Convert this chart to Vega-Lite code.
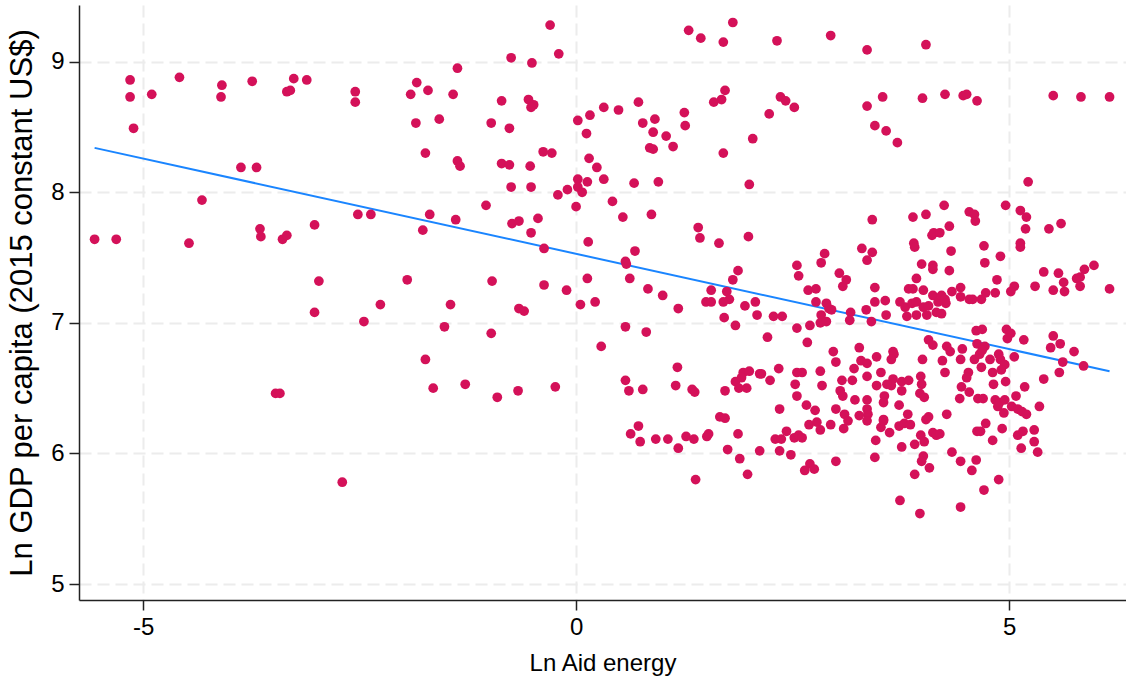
{
"$schema": "https://vega.github.io/schema/vega-lite/v6.json",
"width": 1047, "height": 595,
"autosize": {"type": "none"},
"padding": {"left": 79, "top": 5, "right": 0, "bottom": 79},
"background": "white",
"config": {"view": {"stroke": null}, "font": "Liberation Sans",
 "axis": {"labelFont": "Liberation Sans", "titleFont": "Liberation Sans", "labelFontSize": 24, "titleFontSize": 24, "titleFontWeight": "normal", "labelColor": "black", "titleColor": "black", "domainColor": "#222222", "domainWidth": 1.5, "tickColor": "#222222", "tickWidth": 1.5, "tickSize": 10, "labelPadding": 5, "grid": true, "gridColor": "#ececec", "gridDash": [12, 6], "gridWidth": 2, "labelExpr": "datum.value + ''"}},
"datasets": {
"pts": [
{"x":-5.56,"y":7.64},{"x":-5.31,"y":7.64},{"x":-5.15,"y":8.86},{"x":-5.15,"y":8.73},{"x":-5.11,"y":8.49},{"x":-4.90,"y":8.75},{"x":-4.58,"y":8.88},{"x":-4.47,"y":7.61},{"x":-4.32,"y":7.94},{"x":-4.09,"y":8.82},{"x":-4.10,"y":8.73},{"x":-3.87,"y":8.19},{"x":-3.74,"y":8.85},{"x":-3.69,"y":8.19},{"x":-3.65,"y":7.72},{"x":-3.64,"y":7.66},{"x":-3.47,"y":6.46},{"x":-3.42,"y":6.46},{"x":-3.39,"y":7.64},{"x":-3.34,"y":7.67},{"x":-3.34,"y":8.77},{"x":-3.30,"y":8.78},{"x":-3.26,"y":8.87},{"x":-3.11,"y":8.86},{"x":-3.02,"y":7.75},{"x":-3.02,"y":7.08},{"x":-2.97,"y":7.32},{"x":-2.70,"y":5.78},{"x":-2.55,"y":8.77},{"x":-2.55,"y":8.69},{"x":-2.52,"y":7.83},{"x":-2.45,"y":7.01},{"x":-2.37,"y":7.83},{"x":-2.26,"y":7.14},
{"x":-0.30,"y":9.28},{"x":-0.20,"y":9.06},{"x":-0.75,"y":9.03},{"x":-0.51,"y":8.99},{"x":-1.37,"y":8.95},{"x":-1.84,"y":8.84},{"x":-1.91,"y":8.75},{"x":-1.71,"y":8.78},{"x":-1.42,"y":8.75},{"x":-0.86,"y":8.70},{"x":-0.55,"y":8.71},{"x":-0.49,"y":8.67},{"x":-0.52,"y":8.65},{"x":-1.85,"y":8.53},{"x":-1.58,"y":8.56},{"x":-0.98,"y":8.53},{"x":-0.77,"y":8.49},{"x":0.02,"y":8.55},{"x":0.16,"y":8.59},{"x":0.32,"y":8.65},{"x":0.49,"y":8.63},{"x":0.72,"y":8.69},{"x":0.12,"y":8.45},{"x":0.77,"y":8.53},{"x":0.91,"y":8.56},{"x":0.89,"y":8.46},{"x":1.04,"y":8.43},{"x":1.12,"y":8.35},{"x":0.85,"y":8.34},{"x":0.89,"y":8.33},{"x":1.25,"y":8.61},{"x":1.26,"y":8.51},{"x":1.30,"y":9.24},{"x":1.44,"y":9.18},{"x":1.81,"y":9.30},{"x":1.70,"y":9.15},{"x":1.72,"y":8.78},{"x":1.68,"y":8.71},{"x":1.59,"y":8.69},{"x":2.04,"y":8.41},{"x":1.70,"y":8.30},{"x":2.00,"y":8.06},{"x":-1.74,"y":8.30},{"x":-1.37,"y":8.24},{"x":-1.34,"y":8.20},{"x":-0.86,"y":8.22},{"x":-0.77,"y":8.21},{"x":-0.53,"y":8.20},{"x":-0.38,"y":8.31},{"x":-0.28,"y":8.30},{"x":-0.75,"y":8.04},{"x":-0.52,"y":8.04},{"x":0.15,"y":8.26},{"x":0.24,"y":8.19},{"x":0.32,"y":8.10},{"x":0.13,"y":8.08},{"x":0.02,"y":8.10},{"x":0.02,"y":8.04},{"x":0.07,"y":8.00},{"x":-0.10,"y":8.02},{"x":-0.21,"y":7.98},{"x":0.00,"y":7.89},{"x":0.67,"y":8.07},{"x":0.95,"y":8.08},{"x":0.42,"y":7.93},{"x":0.54,"y":7.81},{"x":0.87,"y":7.83},{"x":-1.04,"y":7.90},{"x":-1.69,"y":7.83},{"x":-1.39,"y":7.79},{"x":-1.77,"y":7.71},{"x":-0.74,"y":7.76},{"x":-0.66,"y":7.78},{"x":-0.44,"y":7.80},{"x":-0.52,"y":7.69},{"x":-0.37,"y":7.57},{"x":0.14,"y":7.62},{"x":0.68,"y":7.55},{"x":0.57,"y":7.47},{"x":0.58,"y":7.45},{"x":1.41,"y":7.73},{"x":1.43,"y":7.65},{"x":1.65,"y":7.61},{"x":1.99,"y":7.66},{"x":1.87,"y":7.40},{"x":1.81,"y":7.33},{"x":1.56,"y":7.25},{"x":1.74,"y":7.24},{"x":1.77,"y":7.18},{"x":1.70,"y":7.16},{"x":1.50,"y":7.16},{"x":1.56,"y":7.16},{"x":1.95,"y":7.13},{"x":2.07,"y":7.16},{"x":1.18,"y":7.11},{"x":1.00,"y":7.21},{"x":0.83,"y":7.26},{"x":0.62,"y":7.34},{"x":0.13,"y":7.34},{"x":0.22,"y":7.16},{"x":0.05,"y":7.14},{"x":-0.11,"y":7.25},{"x":-0.37,"y":7.29},{"x":-0.97,"y":7.32},{"x":-1.95,"y":7.33},{"x":-1.45,"y":7.14},{"x":-0.66,"y":7.11},{"x":-0.60,"y":7.09},
{"x":2.32,"y":9.16},{"x":2.94,"y":9.20},{"x":3.36,"y":9.09},{"x":4.04,"y":9.13},{"x":2.36,"y":8.73},{"x":2.42,"y":8.70},{"x":2.52,"y":8.65},{"x":2.23,"y":8.60},{"x":3.36,"y":8.66},{"x":3.54,"y":8.73},{"x":3.45,"y":8.51},{"x":3.58,"y":8.47},{"x":3.71,"y":8.38},{"x":4.00,"y":8.72},{"x":4.26,"y":8.75},{"x":4.47,"y":8.74},{"x":4.51,"y":8.75},{"x":4.63,"y":8.70},{"x":5.51,"y":8.74},{"x":5.83,"y":8.73},{"x":6.16,"y":8.73},{"x":5.22,"y":8.08},{"x":3.42,"y":7.79},{"x":3.89,"y":7.81},{"x":4.04,"y":7.83},{"x":4.25,"y":7.90},{"x":4.54,"y":7.85},{"x":4.60,"y":7.83},{"x":4.96,"y":7.90},{"x":5.13,"y":7.86},{"x":5.20,"y":7.81},
{"x":2.09,"y":7.06},{"x":1.71,"y":7.04},
{"x":0.57,"y":6.97},{"x":0.81,"y":6.93},{"x":0.29,"y":6.82},{"x":1.17,"y":6.66},{"x":0.57,"y":6.56},{"x":0.61,"y":6.48},{"x":0.77,"y":6.49},{"x":1.15,"y":6.52},{"x":1.34,"y":6.49},{"x":1.37,"y":6.47},{"x":1.72,"y":6.48},{"x":1.84,"y":6.55},{"x":1.93,"y":6.62},{"x":2.00,"y":6.63},{"x":1.88,"y":6.50},{"x":1.97,"y":6.50},{"x":1.91,"y":6.58},{"x":2.12,"y":6.61},{"x":1.84,"y":6.98},{"x":1.66,"y":6.28},{"x":1.72,"y":6.27},
{"x":0.63,"y":6.15},{"x":0.72,"y":6.21},{"x":0.74,"y":6.09},{"x":0.92,"y":6.11},{"x":1.06,"y":6.11},{"x":1.18,"y":6.04},{"x":1.27,"y":6.13},{"x":1.36,"y":6.11},{"x":1.51,"y":6.13},{"x":1.53,"y":6.15},{"x":1.38,"y":5.80},{"x":1.87,"y":6.15},{"x":1.75,"y":6.03},{"x":1.89,"y":5.96},{"x":1.98,"y":5.84},{"x":2.12,"y":6.02},
{"x":4.11,"y":7.67},{"x":4.13,"y":7.69},{"x":3.90,"y":7.61},{"x":3.91,"y":7.58},{"x":2.87,"y":7.53},{"x":3.30,"y":7.57},{"x":3.42,"y":7.54},{"x":3.36,"y":7.48},{"x":2.83,"y":7.46},{"x":2.55,"y":7.44},{"x":2.57,"y":7.36},{"x":3.04,"y":7.38},{"x":3.12,"y":7.33},{"x":3.08,"y":7.28},{"x":2.68,"y":7.25},{"x":2.77,"y":7.26},{"x":3.45,"y":7.27},{"x":3.99,"y":7.45},{"x":4.12,"y":7.44},{"x":4.12,"y":7.41},{"x":3.93,"y":7.34},{"x":3.84,"y":7.26},{"x":3.89,"y":7.26},{"x":4.01,"y":7.25},{"x":2.77,"y":7.16},{"x":2.89,"y":7.15},{"x":2.92,"y":7.11},{"x":2.95,"y":7.10},{"x":3.45,"y":7.16},{"x":3.57,"y":7.17},{"x":3.74,"y":7.16},{"x":3.17,"y":7.08},{"x":3.35,"y":7.10},{"x":2.28,"y":7.05},{"x":2.38,"y":7.05},{"x":2.83,"y":7.06},{"x":3.58,"y":7.06},{"x":3.80,"y":7.12},{"x":3.88,"y":7.15},{"x":3.93,"y":7.16},{"x":4.01,"y":7.12},{"x":4.07,"y":7.13},{"x":4.12,"y":7.21},{"x":4.18,"y":7.16},{"x":3.82,"y":7.05},{"x":3.93,"y":7.06},{"x":4.05,"y":7.06},{"x":4.16,"y":7.08},
{"x":4.31,"y":7.74},{"x":4.20,"y":7.69},{"x":4.61,"y":7.78},{"x":5.19,"y":7.72},{"x":5.46,"y":7.72},{"x":5.60,"y":7.76},{"x":4.71,"y":7.59},{"x":4.33,"y":7.55},{"x":5.13,"y":7.61},{"x":5.13,"y":7.58},{"x":4.72,"y":7.46},{"x":4.90,"y":7.51},{"x":4.31,"y":7.40},{"x":4.86,"y":7.33},{"x":5.40,"y":7.39},{"x":5.57,"y":7.38},{"x":5.63,"y":7.31},{"x":5.87,"y":7.41},{"x":5.98,"y":7.44},{"x":5.78,"y":7.34},{"x":5.82,"y":7.35},{"x":5.82,"y":7.28},{"x":6.16,"y":7.26},{"x":5.30,"y":7.28},{"x":5.51,"y":7.25},{"x":5.64,"y":7.24},{"x":5.06,"y":7.28},{"x":5.02,"y":7.24},{"x":4.44,"y":7.27},{"x":4.44,"y":7.20},{"x":4.34,"y":7.24},{"x":4.22,"y":7.21},{"x":4.26,"y":7.18},{"x":4.27,"y":7.15},{"x":4.54,"y":7.18},{"x":4.58,"y":7.18},{"x":4.68,"y":7.18},{"x":4.73,"y":7.23},{"x":4.84,"y":7.23},{"x":4.22,"y":7.07},
{"x":2.55,"y":6.96},{"x":2.70,"y":6.98},{"x":2.82,"y":7.00},{"x":2.89,"y":7.01},{"x":3.16,"y":7.02},{"x":3.41,"y":7.01},{"x":2.21,"y":6.89},{"x":2.67,"y":6.85},{"x":2.97,"y":6.78},{"x":3.00,"y":6.70},{"x":3.27,"y":6.81},{"x":3.29,"y":6.71},{"x":3.36,"y":6.69},{"x":3.47,"y":6.74},{"x":3.66,"y":6.78},{"x":3.67,"y":6.76},{"x":3.64,"y":6.72},{"x":4.00,"y":6.72},{"x":4.07,"y":6.87},{"x":4.12,"y":6.83},{"x":2.14,"y":6.61},{"x":2.24,"y":6.56},{"x":2.34,"y":6.65},{"x":2.55,"y":6.62},{"x":2.61,"y":6.62},{"x":2.53,"y":6.53},{"x":2.82,"y":6.63},{"x":2.84,"y":6.52},{"x":3.07,"y":6.56},{"x":3.21,"y":6.65},{"x":3.19,"y":6.56},{"x":3.36,"y":6.59},{"x":3.52,"y":6.62},{"x":3.47,"y":6.52},{"x":3.66,"y":6.57},{"x":3.64,"y":6.52},{"x":3.59,"y":6.53},{"x":3.76,"y":6.55},{"x":3.84,"y":6.56},{"x":3.76,"y":6.48},{"x":3.98,"y":6.59},{"x":3.99,"y":6.53},{"x":3.97,"y":6.46},{"x":4.02,"y":6.43},{"x":3.05,"y":6.48},{"x":3.08,"y":6.44},{"x":2.55,"y":6.44},{"x":3.22,"y":6.41},{"x":3.36,"y":6.41},{"x":3.56,"y":6.44},{"x":3.55,"y":6.39},{"x":3.73,"y":6.37},{"x":2.66,"y":6.37},{"x":2.76,"y":6.33},{"x":2.35,"y":6.34},{"x":3.00,"y":6.34},{"x":3.10,"y":6.30},{"x":3.36,"y":6.34},{"x":3.37,"y":6.30},{"x":3.27,"y":6.29},{"x":3.83,"y":6.30},{"x":3.55,"y":6.26},{"x":4.07,"y":6.28},
{"x":4.62,"y":6.94},{"x":4.69,"y":6.95},{"x":4.97,"y":6.95},{"x":5.02,"y":6.92},{"x":4.98,"y":6.88},{"x":5.17,"y":6.87},{"x":5.51,"y":6.90},{"x":5.48,"y":6.81},{"x":5.59,"y":6.84},{"x":5.75,"y":6.78},{"x":5.62,"y":6.70},{"x":5.86,"y":6.67},{"x":5.58,"y":6.62},{"x":5.40,"y":6.57},{"x":4.28,"y":6.82},{"x":4.32,"y":6.78},{"x":4.46,"y":6.80},{"x":4.63,"y":6.84},{"x":4.72,"y":6.82},{"x":4.44,"y":6.72},{"x":4.60,"y":6.72},{"x":4.66,"y":6.76},{"x":4.69,"y":6.79},{"x":4.78,"y":6.72},{"x":4.88,"y":6.76},{"x":4.90,"y":6.72},{"x":4.95,"y":6.68},{"x":5.06,"y":6.74},{"x":4.23,"y":6.71},{"x":4.26,"y":6.62},{"x":4.68,"y":6.66},{"x":4.81,"y":6.62},{"x":4.91,"y":6.64},{"x":4.53,"y":6.62},{"x":4.51,"y":6.58},{"x":4.82,"y":6.53},{"x":4.96,"y":6.55},{"x":4.45,"y":6.51},{"x":4.54,"y":6.47},{"x":5.18,"y":6.51},{"x":5.08,"y":6.44},{"x":4.43,"y":6.42},{"x":4.64,"y":6.42},{"x":4.70,"y":6.42},{"x":4.84,"y":6.41},{"x":4.89,"y":6.39},{"x":4.95,"y":6.41},{"x":4.87,"y":6.36},{"x":5.03,"y":6.36},{"x":5.10,"y":6.34},{"x":5.15,"y":6.32},{"x":5.20,"y":6.30},{"x":5.35,"y":6.36},{"x":4.94,"y":6.31},{"x":4.28,"y":6.30},
{"x":2.30,"y":6.11},{"x":2.37,"y":6.11},{"x":2.43,"y":6.17},{"x":2.52,"y":6.12},{"x":2.57,"y":6.14},{"x":2.61,"y":6.12},{"x":2.35,"y":6.02},{"x":2.48,"y":5.99},{"x":2.69,"y":6.22},{"x":2.78,"y":6.24},{"x":2.82,"y":6.18},{"x":2.94,"y":6.22},{"x":3.09,"y":6.19},{"x":3.14,"y":6.25},{"x":3.36,"y":6.25},{"x":3.52,"y":6.20},{"x":3.55,"y":6.25},{"x":3.62,"y":6.16},{"x":3.46,"y":6.10},{"x":3.73,"y":6.21},{"x":3.79,"y":6.23},{"x":3.86,"y":6.22},{"x":3.98,"y":6.14},{"x":4.02,"y":6.09},{"x":3.91,"y":6.07},{"x":3.76,"y":6.05},{"x":4.12,"y":6.16},{"x":4.16,"y":6.14},{"x":4.04,"y":6.26},{"x":2.70,"y":5.92},{"x":2.64,"y":5.87},{"x":2.75,"y":5.88},{"x":3.00,"y":5.94},{"x":3.45,"y":5.97},{"x":4.01,"y":5.98},{"x":3.99,"y":5.94},{"x":4.08,"y":5.89},{"x":3.91,"y":5.84},{"x":3.74,"y":5.64},{"x":3.97,"y":5.54},
{"x":4.20,"y":6.15},{"x":4.63,"y":6.17},{"x":4.67,"y":6.17},{"x":4.73,"y":6.23},{"x":4.92,"y":6.19},{"x":4.81,"y":6.10},{"x":5.10,"y":6.14},{"x":5.16,"y":6.17},{"x":5.29,"y":6.18},{"x":5.29,"y":6.09},{"x":5.14,"y":6.04},{"x":5.33,"y":6.01},{"x":4.34,"y":6.01},{"x":4.44,"y":5.94},{"x":4.62,"y":5.95},{"x":4.57,"y":5.87},{"x":4.88,"y":5.80},{"x":4.71,"y":5.72},{"x":4.44,"y":5.59},
{"x":-0.98,"y":6.92},{"x":-1.52,"y":6.97},{"x":-1.74,"y":6.72},{"x":-1.65,"y":6.50},{"x":-1.28,"y":6.53},{"x":-0.91,"y":6.43},{"x":-0.67,"y":6.48},{"x":-0.24,"y":6.51}
],
"fit": [{"x":-5.56,"y":8.34},{"x":6.16,"y":6.63}]
},
"layer": [
{"data": {"name": "fit"}, "mark": {"type": "line", "color": "#1A85FF", "strokeWidth": 2},
 "encoding": {
  "x": {"field": "x", "type": "quantitative", "scale": {"domain": [-5.74, 6.35], "nice": false, "zero": false},
        "axis": {"title": "Ln Aid energy", "values": [-5, 0, 5], "titlePadding": 12}},
  "y": {"field": "y", "type": "quantitative", "scale": {"domain": [4.878, 9.434], "nice": false, "zero": false},
        "axis": {"title": "Ln GDP per capita (2015 constant US$)", "values": [5, 6, 7, 8, 9], "titlePadding": 12, "titleFontSize": 31}}
 }},
{"data": {"name": "pts"}, "mark": {"type": "circle", "size": 95, "color": "#D41159", "opacity": 1},
 "encoding": {
  "x": {"field": "x", "type": "quantitative"},
  "y": {"field": "y", "type": "quantitative"}
 }}
]
}
